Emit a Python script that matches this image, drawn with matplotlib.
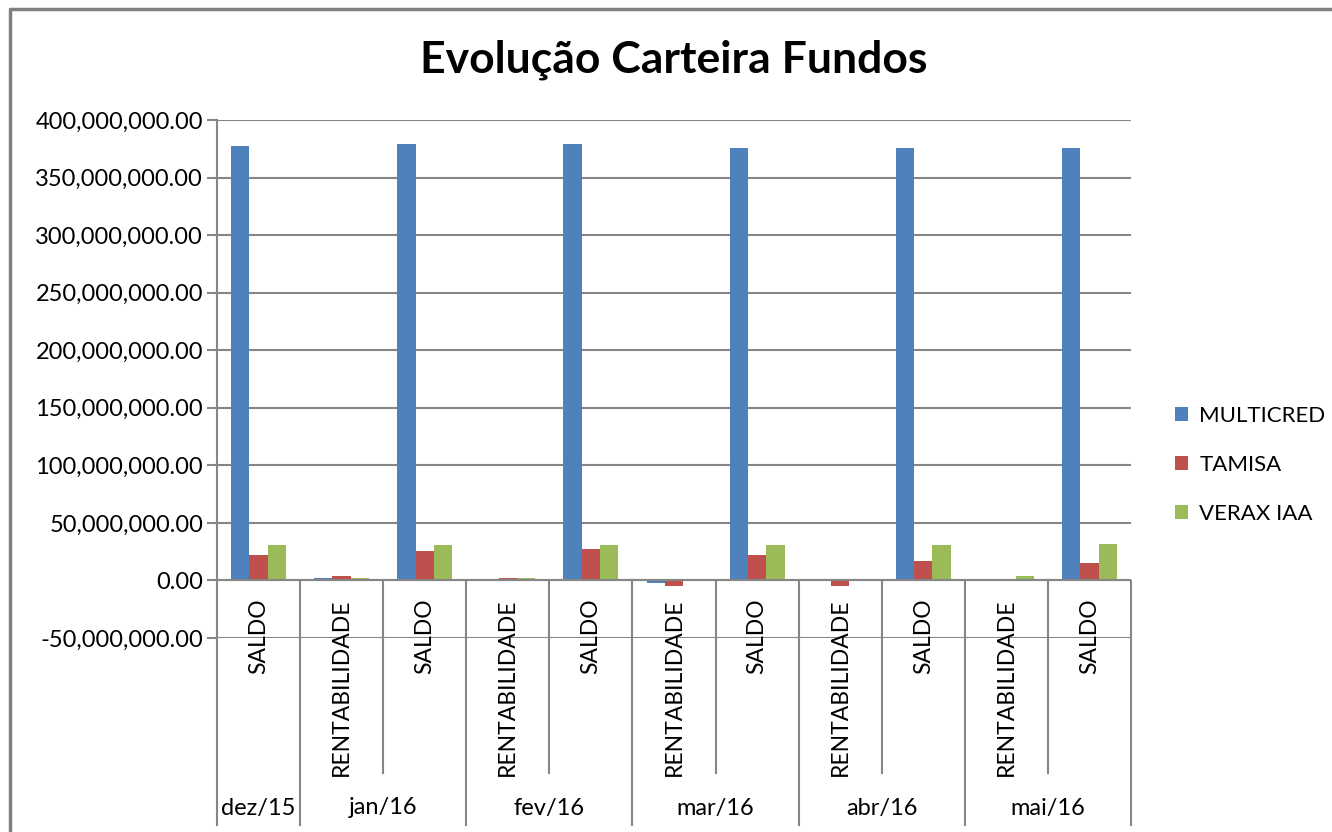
import matplotlib.pyplot as plt
import numpy as np
from matplotlib.lines import Line2D

plt.rcParams['font.family'] = ['Lato', 'DejaVu Sans']

# Data
categories = ['SALDO', 'RENTABILIDADE', 'SALDO', 'RENTABILIDADE', 'SALDO', 'RENTABILIDADE',
              'SALDO', 'RENTABILIDADE', 'SALDO', 'RENTABILIDADE', 'SALDO']
months = ['dez/15', 'jan/16', 'fev/16', 'mar/16', 'abr/16', 'mai/16']
month_span = [(0, 0), (1, 2), (3, 4), (5, 6), (7, 8), (9, 10)]
series = ['MULTICRED', 'TAMISA', 'VERAX IAA']
multicred = [377.5e6, 2.2e6, 379.3e6, 0.5e6, 379.3e6, -2.5e6, 375.9e6, -0.2e6, 375.9e6, -0.2e6, 375.9e6]
tamisa = [21.7e6, 3.8e6, 25.2e6, 2.3e6, 27.0e6, -4.5e6, 21.7e6, -4.5e6, 16.5e6, -0.4e6, 14.8e6]
verax = [30.4e6, 2.0e6, 30.4e6, 2.0e6, 30.4e6, -0.5e6, 30.4e6, -0.4e6, 30.4e6, 3.6e6, 32.0e6]
colors = ['#4F81BD', '#C0504D', '#9BBB59']

W, H = 1332, 832
fig = plt.figure(figsize=(W / 100, H / 100), dpi=100)
ax = fig.add_axes([217 / W, (H - 638) / H, (1131 - 217) / W, (638 - 120) / H])

x = np.arange(len(categories))
bw = 0.22
for i, (vals, name) in enumerate(zip([multicred, tamisa, verax], series)):
    ax.bar(x + (i - 1) * bw, vals, bw, color=colors[i], label=name, zorder=3)

ax.set_xlim(-0.5, len(categories) - 0.5)
ax.set_ylim(-50e6, 400e6)
ticks = np.arange(-50e6, 400e6 + 1, 50e6)
ax.set_yticks(ticks)
ax.set_yticklabels([f'{v:,.2f}' for v in ticks], fontsize=17)
ax.grid(axis='y', color='#868686', lw=1.5, zorder=1)
ax.tick_params(axis='y', length=7, width=1.5, color='#868686', pad=3)
ax.set_xticks([])
for s in ['top', 'right', 'bottom']:
    ax.spines[s].set_visible(False)
ax.spines['left'].set_color('#868686')
ax.spines['left'].set_linewidth(1.5)
ax.axhline(0, color='#868686', lw=1.5, zorder=4)

# category labels and separators below the axis
def fy(py):
    return 1 - py / H

def fx(xd):
    return (217 + (xd + 0.5) * (1131 - 217) / len(categories)) / W

for i, c in enumerate(categories):
    fig.text(fx(i), fy(598), c, rotation=90, ha='center', va='top', fontsize=16.5)

group_edges = {-0.5, 10.5}
for a, b in month_span:
    group_edges.add(a - 0.5)
    group_edges.add(b + 0.5)
for k in np.arange(-0.5, len(categories), 1.0):
    bottom = 825 if k in group_edges else 773
    fig.add_artist(Line2D([fx(k), fx(k)], [fy(581), fy(bottom)], color='#868686', lw=1.5))

for m, (a, b) in zip(months, month_span):
    fig.text(fx((a + b) / 2), fy(808), m, ha='center', va='center', fontsize=17)

fig.text(0.5 * (217 + 1131) / W + 0.0, fy(60), 'Evolução Carteira Fundos',
         ha='center', va='center', fontsize=32, fontweight='bold')

fig.legend(loc='center left', bbox_to_anchor=(1155 / W, fy(465)), frameon=False,
           fontsize=16, handlelength=0.6, handleheight=0.6, labelspacing=1.3,
           handletextpad=0.5)

# outer chart border
fig.add_artist(Line2D([10 / W, 10 / W, 1.0], [0.0, fy(9), fy(9)], color='#808080', lw=2.5))

fig.savefig('out.png', dpi=100)
